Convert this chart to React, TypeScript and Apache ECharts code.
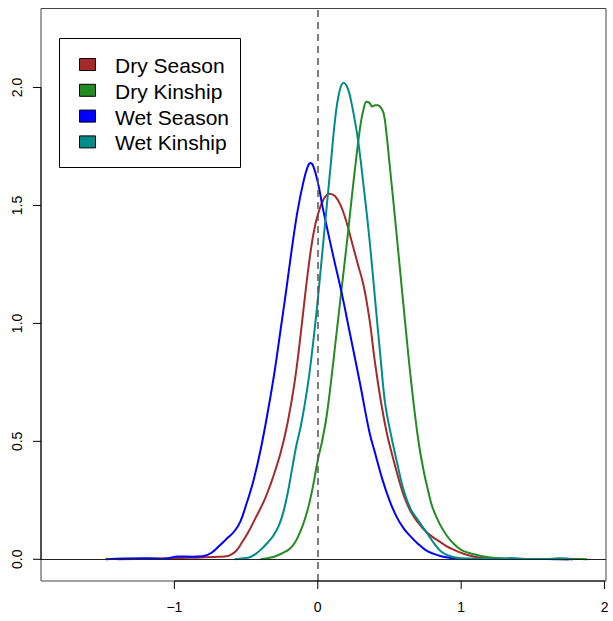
import React, { useEffect, useRef } from "react";
import * as echarts from "echarts";

const seriesNames = ["Dry Season", "Dry Kinship", "Wet Season", "Wet Kinship"];
const seriesColors = ["#A52A2A", "#228B22", "#0000FF", "#008B8B"];

const drySeason: number[][] = [
  [-1.40, 0], [-1.2, 0.002], [-1.0, 0.004], [-0.85, 0.007], [-0.72, 0.01], [-0.65, 0.012],
  [-0.61, 0.018], [-0.57, 0.035], [-0.53, 0.07], [-0.48, 0.12], [-0.43, 0.18], [-0.38, 0.24],
  [-0.34, 0.30], [-0.30, 0.37], [-0.26, 0.45], [-0.22, 0.55], [-0.18, 0.68], [-0.15, 0.80],
  [-0.12, 0.95], [-0.09, 1.11], [-0.06, 1.26], [-0.03, 1.38], [0.0, 1.46], [0.04, 1.525],
  [0.08, 1.55], [0.12, 1.54], [0.16, 1.50], [0.20, 1.43], [0.24, 1.34], [0.28, 1.25],
  [0.32, 1.16], [0.36, 1.02], [0.40, 0.83], [0.44, 0.67], [0.48, 0.54], [0.52, 0.44],
  [0.56, 0.35], [0.60, 0.27], [0.65, 0.20], [0.70, 0.155], [0.75, 0.12], [0.80, 0.095],
  [0.85, 0.075], [0.90, 0.055], [0.95, 0.04], [1.0, 0.027], [1.05, 0.017], [1.12, 0.008],
  [1.19, 0.003], [1.4, 0.001], [1.6, 0.001], [1.78, 0],
];

const dryKinship: number[][] = [
  [-0.40, 0], [-0.35, 0.005], [-0.30, 0.012], [-0.25, 0.025], [-0.20, 0.042], [-0.16, 0.07],
  [-0.12, 0.12], [-0.09, 0.17], [-0.06, 0.235], [-0.03, 0.32], [0.0, 0.42], [0.03, 0.50],
  [0.06, 0.60], [0.09, 0.74], [0.12, 0.90], [0.15, 1.06], [0.18, 1.22], [0.21, 1.38],
  [0.24, 1.55], [0.27, 1.71], [0.30, 1.85], [0.32, 1.91], [0.34, 1.94], [0.36, 1.935],
  [0.38, 1.92], [0.40, 1.925], [0.42, 1.925], [0.44, 1.915], [0.46, 1.89], [0.48, 1.80],
  [0.50, 1.68], [0.53, 1.50], [0.57, 1.25], [0.61, 1.0], [0.65, 0.76], [0.70, 0.51],
  [0.74, 0.37], [0.77, 0.29], [0.80, 0.22], [0.85, 0.15], [0.90, 0.10], [0.95, 0.065],
  [1.0, 0.04], [1.05, 0.028], [1.10, 0.02], [1.16, 0.012], [1.22, 0.007], [1.35, 0.002],
  [1.5, 0.001], [1.7, 0.002], [1.88, 0],
];

const wetSeason: number[][] = [
  [-1.48, 0], [-1.35, 0.003], [-1.2, 0.004], [-1.08, 0.002], [-0.97, 0.012], [-0.88, 0.011],
  [-0.80, 0.013], [-0.74, 0.028], [-0.69, 0.055], [-0.63, 0.09], [-0.58, 0.12], [-0.54, 0.16],
  [-0.50, 0.23], [-0.45, 0.33], [-0.40, 0.46], [-0.35, 0.62], [-0.30, 0.80], [-0.26, 0.97],
  [-0.22, 1.14], [-0.18, 1.32], [-0.14, 1.48], [-0.10, 1.60], [-0.07, 1.665], [-0.05, 1.68],
  [-0.03, 1.665], [0.0, 1.60], [0.035, 1.49], [0.07, 1.39], [0.11, 1.28], [0.17, 1.12],
  [0.22, 0.97], [0.29, 0.76], [0.36, 0.54], [0.40, 0.45], [0.45, 0.34], [0.50, 0.25],
  [0.55, 0.18], [0.60, 0.13], [0.65, 0.095], [0.70, 0.065], [0.75, 0.04], [0.80, 0.025],
  [0.86, 0.013], [0.92, 0.006], [0.98, 0.002], [1.1, 0.001], [1.3, 0.001], [1.5, 0.001],
  [1.75, 0],
];

const wetKinship: number[][] = [
  [-0.58, 0], [-0.52, 0.004], [-0.47, 0.01], [-0.43, 0.024], [-0.39, 0.045], [-0.35, 0.07],
  [-0.31, 0.10], [-0.27, 0.145], [-0.24, 0.20], [-0.21, 0.28], [-0.18, 0.38], [-0.15, 0.48],
  [-0.12, 0.56], [-0.09, 0.66], [-0.06, 0.78], [-0.03, 0.93], [0.0, 1.1], [0.03, 1.29],
  [0.06, 1.48], [0.09, 1.67], [0.12, 1.86], [0.15, 1.98], [0.18, 2.02], [0.21, 1.995],
  [0.24, 1.92], [0.28, 1.78], [0.32, 1.58], [0.36, 1.36], [0.40, 1.10], [0.44, 0.84],
  [0.47, 0.66], [0.51, 0.53], [0.56, 0.39], [0.60, 0.29], [0.65, 0.21], [0.70, 0.165],
  [0.74, 0.13], [0.78, 0.095], [0.82, 0.06], [0.86, 0.033], [0.91, 0.016], [0.96, 0.008],
  [1.05, 0.003], [1.2, 0.001], [1.35, 0.005], [1.45, 0.001], [1.6, 0.001], [1.68, 0.004],
  [1.78, 0],
];

const xTicks = [-1, 0, 1, 2];
const yTicks = [0, 0.5, 1, 1.5, 2];

const GRID_LEFT = 41;
const GRID_BOTTOM_PX = 581;
const TICK_LEN = 8;

export default function App() {
  const ref = useRef<HTMLDivElement>(null);
  useEffect(() => {
    const chart = echarts.init(ref.current!, null, { renderer: "svg" });
    const font = "'Liberation Sans', Arial, Helvetica, sans-serif";
    const all = [drySeason, dryKinship, wetSeason, wetKinship];
    const lines = all.map((d, i) => ({
      name: seriesNames[i],
      type: "line",
      data: d,
      showSymbol: false,
      symbol: "none",
      smooth: 0.4,
      silent: true,
      z: 3,
      lineStyle: { color: seriesColors[i], width: 2 },
      itemStyle: { color: seriesColors[i] },
    }));
    const refSeries = {
      name: "ref",
      type: "line",
      data: [[0, 0]],
      symbol: "none",
      showSymbol: false,
      silent: true,
      z: 5,
      lineStyle: { width: 0 },
      markLine: {
        symbol: ["none", "none"],
        silent: true,
        animation: false,
        label: { show: false },
        data: [
          { yAxis: 0, lineStyle: { color: "#222", width: 1.2, type: "solid" } },
          { xAxis: 0, lineStyle: { color: "#555", width: 1.5, type: [7, 5] } },
        ],
      },
    };
    const legendGraphics: any[] = [
      {
        type: "rect",
        shape: { x: 59.5, y: 38.5, width: 181, height: 129 },
        style: { fill: "#fff", stroke: "#000", lineWidth: 1 },
        z: 10,
      },
      ...seriesNames.map((n, i) => ({
        type: "rect",
        shape: { x: 79.5, y: 58.5 + i * 25.8, width: 16, height: 12 },
        style: { fill: seriesColors[i], stroke: "#000", lineWidth: 1 },
        z: 11,
      })),
      ...seriesNames.map((n, i) => ({
        type: "text",
        x: 115,
        y: 65.5 + i * 25.8,
        style: {
          text: n,
          fontSize: 21,
          fontFamily: font,
          fill: "#000",
          verticalAlign: "middle",
          align: "left",
        },
        z: 11,
      })),
    ];
    chart.setOption({
      animation: false,
      backgroundColor: "#fff",
      grid: {
        left: GRID_LEFT,
        right: 7,
        top: 8.5,
        bottom: 621 - GRID_BOTTOM_PX,
        show: true,
        borderColor: "#444",
        borderWidth: 1,
        backgroundColor: "transparent",
      },
      xAxis: {
        type: "value",
        min: -1.93,
        max: 2.01,
        axisLine: { show: false, onZero: false },
        splitLine: { show: false },
        axisTick: { show: false },
        axisLabel: {
          customValues: xTicks,
          fontSize: 14,
          fontFamily: font,
          color: "#000",
          margin: 19,
          formatter: (v: number) => (v < 0 ? "\u2212" + Math.abs(v) : String(v)),
        },
      },
      yAxis: {
        type: "value",
        min: -0.092,
        max: 2.335,
        axisLine: { show: false, onZero: false },
        splitLine: { show: false },
        axisTick: { show: false },
        axisLabel: {
          customValues: yTicks,
          rotate: 90,
          fontSize: 14,
          fontFamily: font,
          color: "#000",
          margin: 17,
          formatter: (v: number) => v.toFixed(1),
        },
      },
      series: [...lines, refSeries],
    });

    // axis ticks and R-style axis lines (first to last tick), placed via the chart's scales
    const tickStyle = { stroke: "#000", lineWidth: 1 };
    const xPix = xTicks.map((v) => chart.convertToPixel({ xAxisIndex: 0 }, v) as number);
    const yPix = yTicks.map((v) => chart.convertToPixel({ yAxisIndex: 0 }, v) as number);
    const axisGraphics: any[] = [
      {
        type: "line",
        shape: { x1: xPix[0], y1: GRID_BOTTOM_PX, x2: xPix[xPix.length - 1], y2: GRID_BOTTOM_PX },
        style: tickStyle,
        z: 12,
      },
      ...xPix.map((px) => ({
        type: "line",
        shape: { x1: px, y1: GRID_BOTTOM_PX, x2: px, y2: GRID_BOTTOM_PX + TICK_LEN },
        style: tickStyle,
        z: 12,
      })),
      {
        type: "line",
        shape: { x1: GRID_LEFT, y1: yPix[0], x2: GRID_LEFT, y2: yPix[yPix.length - 1] },
        style: tickStyle,
        z: 12,
      },
      ...yPix.map((py) => ({
        type: "line",
        shape: { x1: GRID_LEFT - TICK_LEN, y1: py, x2: GRID_LEFT, y2: py },
        style: tickStyle,
        z: 12,
      })),
    ];
    chart.setOption({ graphic: [...legendGraphics, ...axisGraphics] });
    return () => chart.dispose();
  }, []);
  return (
    <div
      ref={ref}
      style={{ position: "fixed", left: 0, top: 0, width: 613, height: 621, background: "#fff" }}
    />
  );
}
